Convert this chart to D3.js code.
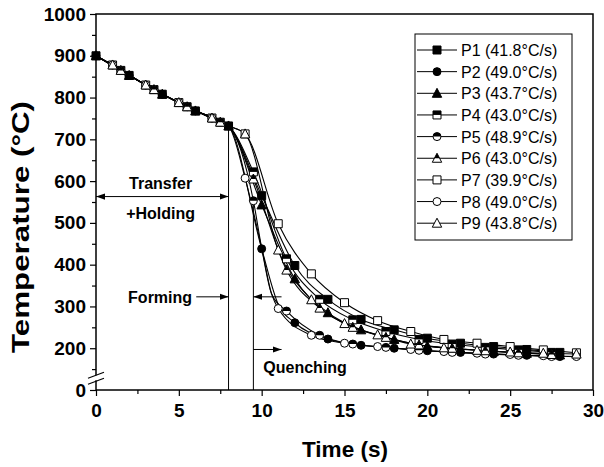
<!DOCTYPE html>
<html>
<head>
<meta charset="utf-8">
<script src="https://cdn.jsdelivr.net/npm/d3@7"></script>
<style>
  body { margin: 0; background: #fff; }
  text { font-family: "Liberation Sans", Arial, sans-serif; }
</style>
</head>
<body>
<svg id="chart" width="604" height="467"></svg>
<script>
// sample times, one set per marker fill group
const timeFilled = [0, 2, 4, 6, 8, 10, 12, 14, 16, 18, 20, 22, 24, 26, 28];
const timeHalf = [1.5, 3.5, 5.5, 7.5, 9.5, 11.5, 13.5, 15.5, 17.5, 19.5, 21.5, 23.5, 25.5, 27.5];
const timeOpen = [1, 3, 5, 7, 9, 11, 13, 15, 17, 19, 21, 23, 25, 27, 29];

// temperatures (°C)
const p1 = [900, 853, 808, 768, 732, 565, 398, 317, 269, 244, 224, 212, 204, 197, 190];
const p2 = [900, 853, 808, 768, 732, 438, 261, 222, 207, 200, 194, 190, 186, 183, 180];
const p3 = [900, 853, 808, 768, 732, 543, 366, 285, 244, 221, 205, 198, 192, 188, 184];
const p4 = [865, 819, 778, 741, 622, 414, 317, 268, 240, 221, 210, 202, 196, 190];
const p5 = [865, 819, 778, 741, 553, 289, 231, 210, 202, 195, 190, 186, 183, 180];
const p6 = [865, 819, 778, 741, 605, 387, 296, 250, 226, 208, 200, 194, 189, 185];
const p7 = [878, 830, 788, 751, 713, 498, 378, 309, 266, 240, 221, 212, 204, 196, 189];
const p8 = [878, 830, 788, 751, 607, 295, 231, 212, 204, 197, 192, 188, 185, 182, 180];
const p9 = [878, 830, 788, 751, 713, 435, 316, 259, 232, 210, 201, 195, 191, 188, 186];

// extra line-only points (no marker) where the traces bend
const bendShared = [[8, 732]];
const bendFast = [[10, 440], [10.6, 330]];

const labels = ["P1 (41.8°C/s)", "P2 (49.0°C/s)", "P3 (43.7°C/s)", "P4 (43.0°C/s)", "P5 (48.9°C/s)",
  "P6 (43.0°C/s)", "P7 (39.9°C/s)", "P8 (49.0°C/s)", "P9 (43.8°C/s)"];
const xTicks = [0, 5, 10, 15, 20, 25, 30];
const yTicks = [100, 200, 300, 400, 500, 600, 700, 800, 900, 1000];

const series = [
  { name: labels[0], t: timeFilled, v: p1, shape: "square", fill: "full", bends: [] },
  { name: labels[1], t: timeFilled, v: p2, shape: "circle", fill: "full", bends: [[11, 305]] },
  { name: labels[2], t: timeFilled, v: p3, shape: "triangle", fill: "full", bends: [] },
  { name: labels[3], t: timeHalf, v: p4, shape: "square", fill: "half", bends: bendShared },
  { name: labels[4], t: timeHalf, v: p5, shape: "circle", fill: "half", bends: bendShared.concat(bendFast) },
  { name: labels[5], t: timeHalf, v: p6, shape: "triangle", fill: "half", bends: bendShared },
  { name: labels[6], t: timeOpen, v: p7, shape: "square", fill: "open", bends: bendShared },
  { name: labels[7], t: timeOpen, v: p8, shape: "circle", fill: "open", bends: bendShared.concat(bendFast) },
  { name: labels[8], t: timeOpen, v: p9, shape: "triangle", fill: "open", bends: bendShared }
];

const svg = d3.select("#chart");
const x = d3.scaleLinear().domain([0, 30]).range([96, 593]);
const y = d3.scaleLinear().domain([100, 1000]).range([390, 14]);

// axes: major + minor ticks
const xMajor = svg.append("g").attr("transform", `translate(0,${y(100)})`)
  .call(d3.axisBottom(x).tickValues(xTicks).tickSize(6).tickPadding(8).tickFormat(d3.format("d")));
const xMinor = svg.append("g").attr("transform", `translate(0,${y(100)})`)
  .call(d3.axisBottom(x).tickValues(d3.range(2.5, 30, 5)).tickSize(4).tickFormat(""));
const yMajor = svg.append("g").attr("transform", `translate(${x(0)},0)`)
  .call(d3.axisLeft(y).tickValues(yTicks).tickSize(6).tickPadding(4).tickFormat(d => d === 100 ? "0" : d));
const yMinor = svg.append("g").attr("transform", `translate(${x(0)},0)`)
  .call(d3.axisLeft(y).tickValues(d3.range(150, 1000, 100)).tickSize(4).tickFormat(""));

[xMajor, xMinor, yMajor, yMinor].forEach(g => {
  g.select(".domain").remove();
  g.selectAll("line").attr("stroke", "#000").attr("stroke-width", 1.2);
  g.selectAll("text").attr("fill", "#000").attr("font-size", 19).attr("font-weight", "bold")
    .attr("font-family", "'Liberation Sans', Arial, sans-serif");
});

// frame
svg.append("rect")
  .attr("x", x(0)).attr("y", y(1000))
  .attr("width", x(30) - x(0)).attr("height", y(100) - y(1000))
  .attr("fill", "none").attr("stroke", "#000").attr("stroke-width", 1.5);

// axis break on the y axis
const brk = svg.append("g").attr("transform", `translate(${x(0)},${y(128)})`);
brk.append("rect").attr("x", -3).attr("y", -3).attr("width", 6).attr("height", 5).attr("fill", "#fff");
[-3, 3].forEach(dy => {
  brk.append("line").attr("x1", -8).attr("y1", dy + 3).attr("x2", 8).attr("y2", dy - 3)
    .attr("stroke", "#000").attr("stroke-width", 1.2);
});

// axis titles
svg.append("text").attr("x", 345).attr("y", 457)
  .attr("text-anchor", "middle").attr("font-size", 22).attr("font-weight", "bold")
  .attr("textLength", 86).attr("lengthAdjust", "spacingAndGlyphs").text("Time (s)");
svg.append("text").attr("transform", `translate(29,227) rotate(-90)`)
  .attr("text-anchor", "middle").attr("font-size", 23).attr("font-weight", "bold")
  .attr("textLength", 252).attr("lengthAdjust", "spacingAndGlyphs").text("Temperature (°C)");

// arrow marker
const defs = svg.append("defs");
defs.append("marker").attr("id", "arr").attr("viewBox", "0 0 10 10")
  .attr("refX", 10).attr("refY", 5).attr("markerWidth", 9).attr("markerHeight", 9)
  .attr("markerUnits", "userSpaceOnUse").attr("orient", "auto-start-reverse")
  .append("path").attr("d", "M0,1.5 L10,5 L0,8.5 Z").attr("fill", "#000");

const ann = svg.append("g").attr("stroke", "#000").attr("stroke-width", 1);
// phase lines
ann.append("line").attr("x1", x(8)).attr("x2", x(8)).attr("y1", y(732)).attr("y2", y(100));
ann.append("line").attr("x1", x(9.5)).attr("x2", x(9.5)).attr("y1", y(560)).attr("y2", y(100));
// arrows
ann.append("line").attr("x1", x(0)).attr("x2", x(8)).attr("y1", y(563)).attr("y2", y(563))
  .attr("marker-start", "url(#arr)").attr("marker-end", "url(#arr)");
ann.append("line").attr("x1", x(6.05)).attr("x2", x(8)).attr("y1", y(323)).attr("y2", y(323))
  .attr("marker-end", "url(#arr)");
ann.append("line").attr("x1", x(11.2)).attr("x2", x(9.5)).attr("y1", y(323)).attr("y2", y(323))
  .attr("marker-end", "url(#arr)");
ann.append("line").attr("x1", x(9.5)).attr("x2", x(11.2)).attr("y1", y(197)).attr("y2", y(197))
  .attr("marker-end", "url(#arr)");

const annText = svg.append("g").attr("font-size", 16).attr("font-weight", "bold");
annText.append("text").attr("x", x(3.9)).attr("y", y(563) - 8).attr("text-anchor", "middle").text("Transfer");
annText.append("text").attr("x", x(3.9)).attr("y", y(563) + 22).attr("text-anchor", "middle").text("+Holding");
annText.append("text").attr("x", x(5.8)).attr("y", y(323) + 6).attr("text-anchor", "end").text("Forming");
annText.append("text").attr("x", x(10.1)).attr("y", y(148) + 3).text("Quenching");

// marker symbols
const R = 4;
const shapePath = {
  square: `M${-R},${-R}H${R}V${R}H${-R}Z`,
  circle: `M${-R},0A${R},${R} 0 1 1 ${R},0A${R},${R} 0 1 1 ${-R},0Z`,
  triangle: `M0,${-R - 1}L${R + 0.7},${R}L${-R - 0.7},${R}Z`
};
const halfPath = {
  square: `M${-R},${-R}H${R}V0H${-R}Z`,
  circle: `M${-R},0A${R},${R} 0 0 1 ${R},0Z`,
  triangle: `M0,${-R - 1}L${(R + 0.7) * 0.55},0L${-(R + 0.7) * 0.55},0Z`
};
const drawMarker = (g, s) => {
  g.append("path").attr("d", shapePath[s.shape])
    .attr("fill", s.fill === "full" ? "#000" : "#fff").attr("stroke", "#000").attr("stroke-width", 1);
  if (s.fill === "half") {
    g.append("path").attr("d", halfPath[s.shape]).attr("fill", "#000");
  }
};

const line = d3.line().x(d => x(d[0])).y(d => y(d[1])).curve(d3.curveMonotoneX);
const plot = svg.append("g");
series.forEach(s => {
  const pts = s.t.map((t, i) => [t, s.v[i]]);
  const linePts = pts.concat(s.bends).sort((a, b) => a[0] - b[0]);
  if (s.fill !== "full") linePts.unshift([0, 900]);
  plot.append("path").datum(linePts).attr("d", line)
    .attr("fill", "none").attr("stroke", "#000").attr("stroke-width", 1.1);
});
series.forEach(s => {
  const pts = s.t.map((t, i) => [t, s.v[i]]);
  plot.selectAll(null).data(pts).enter().append("g")
    .attr("transform", d => `translate(${x(d[0])},${y(d[1])})`)
    .each(function () { drawMarker(d3.select(this), s); });
});

// legend
const legend = svg.append("g").attr("transform", "translate(415,34)");
legend.append("rect").attr("width", 157).attr("height", 206)
  .attr("fill", "#fff").attr("stroke", "#000").attr("stroke-width", 1);
series.forEach((s, i) => {
  const row = legend.append("g").attr("transform", `translate(0,${16 + i * 21.65})`);
  row.append("line").attr("x1", 2).attr("x2", 42).attr("stroke", "#000").attr("stroke-width", 1);
  drawMarker(row.append("g").attr("transform", "translate(22,0)"), s);
  row.append("text").attr("x", 46).attr("y", 6).attr("font-size", 16).text(s.name);
});
</script>
</body>
</html>
